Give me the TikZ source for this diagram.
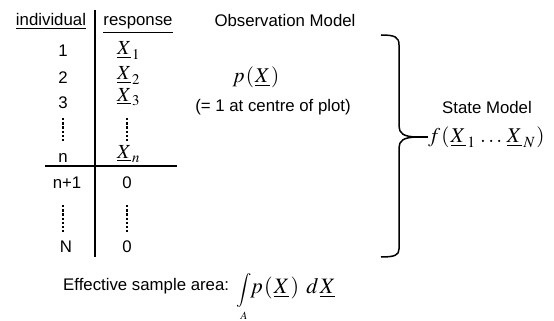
\documentclass[tikz,border=0pt]{standalone}
\usepackage{mathptmx}
\usepackage[no-math]{fontspec}
\setmainfont{Liberation Sans}
\newcommand{\ulX}{\underline{X}}
\begin{document}
\begin{tikzpicture}[x=1pt,y=-1pt,
  lbl/.style={font=\fontsize{16.8}{19}\selectfont, inner sep=0pt, anchor=base},
  mth/.style={font=\fontsize{20}{23}\selectfont, inner sep=0pt},
  tabrule/.style={line width=1.1pt},
  vdotline/.style={line width=2.4pt, dash pattern=on 2.4pt off 1.8pt},
  bracepath/.style={line width=1.5pt}]
\useasboundingbox (0,0) rectangle (554,321);
% table headers
\node[lbl] (hind) at (51,26) {\underline{individual}};
\node[lbl] (hresp) at (138,26) {\underline{response}};
% individuals
\node[lbl] (n1) at (63,57) {1};
\node[lbl] (n2) at (63,84) {2};
\node[lbl] (n3) at (63,108) {3};
\node[lbl] (nn) at (63,162) {n};
\node[lbl] (nn1) at (67,188) {n+1};
\node[lbl] (nN) at (66,252) {N};
% responses
\node[mth, anchor=base west] (x1) at (117,55) {$\ulX_{\mkern1mu 1}$};
\node[mth, anchor=base west] (x2) at (117,80) {$\ulX_{\mkern1mu 2}$};
\node[mth, anchor=base west] (x3) at (117,101) {$\ulX_{\mkern1mu 3}$};
\node[mth, anchor=base west] (xn) at (117,158) {$\ulX_{\mkern1mu n}$};
\node[lbl] (z1) at (127,188) {0};
\node[lbl] (z2) at (127,252) {0};
% vertical dots
\coordinate (d1a) at (63,118); \coordinate (d1b) at (63,143);
\coordinate (d2a) at (127,118); \coordinate (d2b) at (127,143);
\coordinate (d3a) at (63,205); \coordinate (d3b) at (63,232);
\coordinate (d4a) at (127,205); \coordinate (d4b) at (127,232);
\draw[vdotline] (d1a) -- (d1b);
\draw[vdotline] (d2a) -- (d2b);
\draw[vdotline] (d3a) -- (d3b);
\draw[vdotline] (d4a) -- (d4b);
% table rules
\coordinate (vt) at (95,10); \coordinate (vb) at (95,257);
\coordinate (hl) at (45,166); \coordinate (hr) at (177,166);
\draw[tabrule] (vt) -- (vb);
\draw[tabrule] (hl) -- (hr);
% observation model
\node[lbl] (obs) at (285,27) {Observation Model};
\node[mth, font=\fontsize{21}{24}\selectfont] (px) at (256,77) {$p\mkern1mu(\mkern1mu\ulX\mkern1mu)$};
\node[lbl] (note) at (273,111) {(= 1 at centre of plot)};
% state model
\node[lbl] (state) at (487,113) {State Model};
\node[mth, anchor=west, font=\fontsize{21}{24}\selectfont] (fx) at (428,137) {$f\mkern1mu(\mkern1mu\ulX_{\mkern2mu 1}\mkern2mu\ldots\mkern2mu\ulX_{\mkern2mu N}\mkern1mu)$};
% brace
\coordinate (btip) at (418,137);
\draw[bracepath] (381,35) .. controls (395,35) and (399,37) .. (399,45)
  -- (399,126) .. controls (399,133) and (403,137) .. (btip)
  .. controls (403,137) and (399,141) .. (399,148)
  -- (399,249) .. controls (399,255) and (395,257) .. (381,257);
\draw[bracepath] (btip) -- (fx.west);
% effective sample area
\node[lbl, anchor=base west] (eff) at (63,290) {Effective sample area:};
\node[inner sep=0pt, font=\fontsize{17}{20}\selectfont] (int) at (244,290) {$\displaystyle\int$};
\node[inner sep=0pt, font=\fontsize{11}{12}\selectfont] (lima) at (244,316) {$A$};
\node[mth, anchor=base west, font=\fontsize{22}{25}\selectfont] (eff2) at (250,293) {$p\mkern1mu(\mkern1mu\ulX\mkern1mu)\mkern6mu d\mkern1mu\ulX$};
\end{tikzpicture}
\end{document}
